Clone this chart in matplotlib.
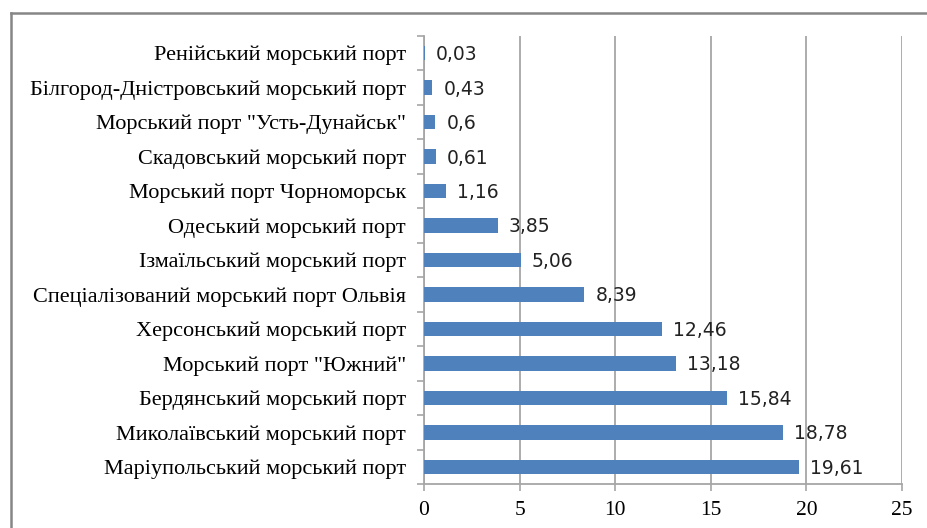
import matplotlib
matplotlib.use("Agg")
import matplotlib.pyplot as plt
from matplotlib.lines import Line2D
import numpy as np

categories = [
    "Ренійський морський порт",
    "Білгород-Дністровський морський порт",
    "Морський порт \"Усть-Дунайськ\"",
    "Скадовський морський порт",
    "Морський порт Чорноморськ",
    "Одеський морський порт",
    "Ізмаїльський морський порт",
    "Спеціалізований морський порт Ольвія",
    "Херсонський морський порт",
    "Морський порт \"Южний\"",
    "Бердянський морський порт",
    "Миколаївський морський порт",
    "Маріупольський морський порт",
]
values = [0.03, 0.43, 0.6, 0.61, 1.16, 3.85, 5.06, 8.39, 12.46, 13.18, 15.84, 18.78, 19.61]
xticks = [0, 5, 10, 15, 20, 25]

W, H = 927, 528
fig = plt.figure(figsize=(W / 100, H / 100), dpi=100)
ax = fig.add_axes([424 / W, 1 - 484 / H, (902 - 424) / W, (484 - 36) / H])

n = len(categories)
ypos = np.arange(n)[::-1]  # first category at top
ax.barh(ypos, values, height=0.42, color="#4F81BD", zorder=3)

for y, v in zip(ypos, values):
    lab = f"{v:g}".replace(".", ",")
    ax.annotate(lab, (v, y), xytext=(8, -1), textcoords="offset points",
                ha="left", va="center", fontsize=13.5, family="DejaVu Sans", color="#222222")

ax.set_xlim(0, 25)
ax.set_ylim(-0.5, n - 0.5)
ax.set_xticks(xticks)
ax.set_xticklabels([str(t) for t in xticks], family="Liberation Serif", fontsize=15.5)
ax.xaxis.grid(True, color="#A6A6A6", linewidth=1.3, zorder=0)
ax.set_axisbelow(True)

ax.set_yticks(ypos)
ax.set_yticklabels(categories, family="Liberation Serif", fontsize=16)
ax.tick_params(axis="y", length=0, pad=13)
# boundary ticks on y axis
ax.set_yticks(np.arange(-0.5, n, 1), minor=True)
ax.tick_params(axis="y", which="minor", length=5, color="#A6A6A6", width=1.2, direction="out")
ax.tick_params(axis="x", length=5, color="#A6A6A6", width=1.2, direction="out", pad=7)

for s in ["top", "right"]:
    ax.spines[s].set_visible(False)
for s in ["left", "bottom"]:
    ax.spines[s].set_color("#A6A6A6")
    ax.spines[s].set_linewidth(1.3)

# outer chart frame (partially visible)
fig.add_artist(Line2D([10.5 / W, 10.5 / W], [0, 1 - 12.5 / H], transform=fig.transFigure,
                      color="#868686", linewidth=1.8))
fig.add_artist(Line2D([10.5 / W, 1], [1 - 12.5 / H, 1 - 12.5 / H], transform=fig.transFigure,
                      color="#868686", linewidth=1.8))

fig.savefig("out.png", dpi=100)
